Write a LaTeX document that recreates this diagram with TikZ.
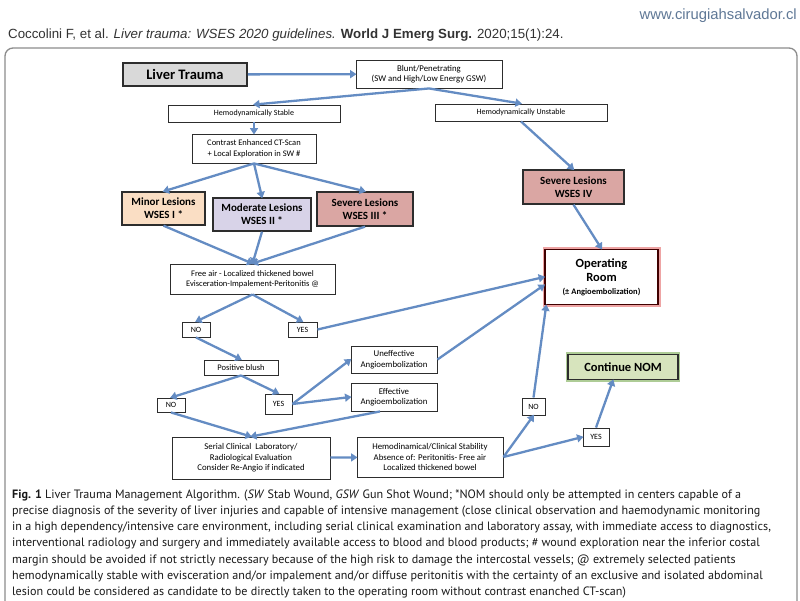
\documentclass[tikz,border=0pt]{standalone}
\usepackage{fontspec}
\setmainfont{Carlito}
\newfontfamily\capfont{PT Sans}
\newfontfamily\hdrfont{Liberation Sans}
\usetikzlibrary{arrows.meta,calc}
\definecolor{arrowblue}{RGB}{100,140,195}
\definecolor{boxline}{RGB}{45,45,45}
\definecolor{ltgray}{RGB}{217,217,217}
\definecolor{minorfill}{RGB}{250,222,196}
\definecolor{modfill}{RGB}{216,211,232}
\definecolor{sevfill}{RGB}{218,166,163}
\definecolor{nomfill}{RGB}{215,228,189}
\definecolor{nomglow}{RGB}{120,170,80}
\definecolor{orglow}{RGB}{225,90,90}
\definecolor{webblue}{RGB}{95,120,150}
\definecolor{framegray}{RGB}{140,140,140}
\begin{document}
\begin{tikzpicture}[x=1pt,y=-1pt,
  box/.style={draw=boxline, line width=0.9pt, fill=white, inner sep=0pt, align=center,
    font=\fontsize{8}{9.5}\selectfont},
  lesion/.style={box, line width=1.3pt, font=\bfseries\fontsize{11}{13}\selectfont},
  arr/.style={draw=arrowblue, line width=2.3pt, -{Triangle[length=6.5pt,width=8pt]}, shorten >=-1pt}
]
\useasboundingbox (0,0) rectangle (800,600);
\fill[white] (0,0) rectangle (800,600);
% header
\node[anchor=base east, font=\hdrfont\fontsize{14.8}{16}\selectfont, text=webblue, inner sep=0pt] (web) at (797,19.5) {www.cirugiahsalvador.cl};
\node[anchor=base west, font=\hdrfont\fontsize{13.3}{15}\selectfont, text=black!80, inner sep=0pt] (ref) at (8,38)
  {Coccolini F, et al. \textit{Liver trauma: WSES 2020 guidelines.} \textbf{World J Emerg Surg.} 2020;15(1):24.};
% frame
\draw[framegray, line width=1.3pt, rounded corners=8pt] (5,620) -- (5,48) -- (797,48) -- (797,620);

% nodes
\node[box, fill=ltgray, line width=1.8pt, minimum width=124pt, minimum height=23pt,
  font=\bfseries\fontsize{14.5}{16}\selectfont] (LT) at (185,74.5) {Liver Trauma};
\node[box, minimum width=146pt, minimum height=28pt, font=\fontsize{8.8}{10.5}\selectfont] (BP) at (429,74) {Blunt/Penetrating\\(SW and High/Low Energy GSW)};
\node[box, minimum width=172pt, minimum height=17pt] (HS) at (254,113.5) {Hemodynamically Stable};
\node[box, minimum width=172pt, minimum height=17pt] (HU) at (521,112.5) {Hemodynamically Unstable};
\node[box, minimum width=124pt, minimum height=29pt, font=\fontsize{8.5}{10.5}\selectfont] (CT) at (254,148.5) {Contrast Enhanced CT-Scan\\+ Local Exploration in SW \#};
\node[lesion, fill=minorfill, minimum width=83pt, minimum height=33pt] (MIN) at (163.5,208.5) {Minor Lesions\\WSES I *};
\node[lesion, fill=modfill, minimum width=98pt, minimum height=33pt] (MOD) at (262,214.5) {Moderate Lesions\\WSES II *};
\node[lesion, fill=sevfill, minimum width=96pt, minimum height=34pt] (SEV3) at (365,209) {Severe Lesions\\WSES III *};
\node[lesion, fill=sevfill, minimum width=101pt, minimum height=34pt] (SEV4) at (573.5,187) {Severe Lesions\\WSES IV};
\node[box, minimum width=165pt, minimum height=30pt, font=\fontsize{8.5}{10.5}\selectfont] (FA) at (252.5,279) {Free air - Localized thickened bowel\\Evisceration-Impalement-Peritonitis @};
\node[box, draw=black!75!red, line width=1.6pt, minimum width=113pt, minimum height=55pt,
  preaction={draw=orglow, line width=5pt, opacity=0.55},
  font=\bfseries\fontsize{12.5}{14}\selectfont] (OR) at (601.5,277)
  {Operating\\Room\\[-1pt]{\fontsize{8.5}{10}\selectfont (± Angioembolization)}};
\node[box, minimum width=28pt, minimum height=15pt] (NOa) at (196,329.5) {NO};
\node[box, minimum width=29pt, minimum height=15pt] (YESa) at (302.5,329.5) {YES};
\node[box, minimum width=74pt, minimum height=15pt, font=\fontsize{8.5}{10}\selectfont] (PB) at (241,367.5) {Positive blush};
\node[box, minimum width=28pt, minimum height=14pt] (NOb) at (171,405) {NO};
\node[box, minimum width=27pt, minimum height=20pt] (YESb) at (278.5,404) {YES};
\node[box, minimum width=86pt, minimum height=27pt, font=\fontsize{8.8}{10.5}\selectfont] (UNE) at (394,359.5) {Uneffective\\Angioembolization};
\node[box, minimum width=86pt, minimum height=28pt, font=\fontsize{8.8}{10.5}\selectfont] (EFF) at (394,397) {Effective\\Angioembolization};
\node[box, minimum width=158pt, minimum height=42pt, font=\fontsize{8.8}{10.5}\selectfont] (SER) at (251,458) {Serial Clinical~ Laboratory/\\Radiological Evaluation\\Consider Re-Angio if indicated};
\node[box, minimum width=146pt, minimum height=40pt, font=\fontsize{8.8}{10.5}\selectfont] (HEM) at (430,457) {Hemodinamical/Clinical Stability\\Absence of: Peritonitis- Free air\\Localized thickened bowel};
\node[box, minimum width=23pt, minimum height=17pt] (NOc) at (533.5,406.5) {NO};
\node[box, minimum width=26pt, minimum height=18pt] (YESc) at (596,437) {YES};
\node[box, fill=nomfill, line width=1.5pt, minimum width=110pt, minimum height=25pt,
  preaction={draw=nomglow, line width=4.5pt, opacity=0.6},
  font=\bfseries\fontsize{12.5}{14}\selectfont] (CN) at (623,367) {Continue NOM};

% connectors
\draw[arr] (LT) -- (BP);
\draw[arr] (BP.south) -- (HS.north);
\draw[arr] (BP.south) -- (HU.north);
\draw[arr] (HS) -- (CT);
\draw[arr] (CT.south) -- (MIN.north);
\draw[arr] (CT.south) -- (MOD.north);
\draw[arr] (CT.south) -- (SEV3.north);
\draw[arr] (MIN.south) -- (FA.north);
\draw[arr] (MOD.south) -- (FA.north);
\draw[arr] (SEV3.south) -- (FA.north);
\draw[arr] (HU.south) -- (SEV4.north);
\draw[arr] (SEV4.south) -- (OR.north);
\draw[arr] (FA.south) -- (NOa.north);
\draw[arr] (FA.south) -- (YESa.north);
\draw[arr] (YESa.east) -- (OR.west);
\draw[arr] (NOa.south) -- (PB.north);
\draw[arr] (PB.south) -- (NOb.north);
\draw[arr] (PB.south) -- (YESb.north);
\draw[arr] (YESb.east) -- (UNE.west);
\draw[arr] (YESb.east) -- (EFF.west);
\draw[arr] (UNE.east) -- ($(OR.west)+(0,8)$);
\draw[arr] (NOb.south) -- (SER.north);
\draw[arr] ($(EFF.south)+(-14,0)$) -- (SER.north);
\draw[arr] (SER) -- (HEM);
\draw[arr] (HEM.east) -- (NOc.south);
\draw[arr] (HEM.east) -- (YESc.west);
\draw[arr] (NOc.north) -- ($(OR.south west)+(2,0)$);
\draw[arr] (YESc.north) -- ($(CN.south)+(-10,0)$);

% caption
\begin{scope}[every node/.style={anchor=base west, inner sep=0pt, font=\capfont\fontsize{12.1}{14}\selectfont, text=black!90}]
\node (c1) at (12,498) {\textbf{Fig. 1} Liver Trauma Management Algorithm. (\textit{SW} Stab Wound, \textit{GSW} Gun Shot Wound; *NOM should only be attempted in centers capable of a};
\node (c2) at (12,514.3) {precise diagnosis of the severity of liver injuries and capable of intensive management (close clinical observation and haemodynamic monitoring};
\node (c3) at (12,530.6) {in a high dependency/intensive care environment, including serial clinical examination and laboratory assay, with immediate access to diagnostics,};
\node (c4) at (12,546.9) {interventional radiology and surgery and immediately available access to blood and blood products; \# wound exploration near the inferior costal};
\node (c5) at (12,563.2) {margin should be avoided if not strictly necessary because of the high risk to damage the intercostal vessels; @ extremely selected patients};
\node (c6) at (12,579.5) {hemodynamically stable with evisceration and/or impalement and/or diffuse peritonitis with the certainty of an exclusive and isolated abdominal};
\node (c7) at (12,595.8) {lesion could be considered as candidate to be directly taken to the operating room without contrast enanched CT-scan)};
\end{scope}
\end{tikzpicture}
\end{document}
